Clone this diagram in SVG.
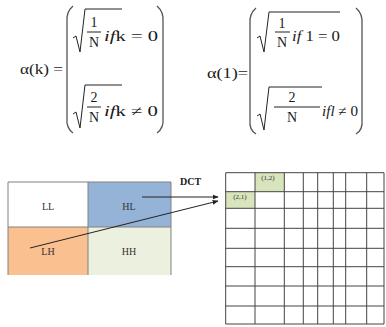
<svg xmlns="http://www.w3.org/2000/svg" width="386" height="327" viewBox="0 0 386 327">
<style>
text{font-family:"Liberation Serif","Times New Roman",serif;fill:#1a1a1a}
.m{font-size:15px}
.f{font-size:14px}
.it{font-style:italic}
.p{fill:none;stroke:#555;stroke-width:1.3}
.s{fill:none;stroke:#222;stroke-width:1}
.b{stroke:#222;stroke-width:1}
.lab{font-size:10px;text-anchor:middle;fill:#333}
.g{stroke:#444;stroke-width:1;fill:none}
.c{font-size:7px;text-anchor:middle;fill:#333}
.a{stroke:#222;stroke-width:1;fill:none;marker-end:url(#ah)}
</style>
<defs>
<marker id="ah" viewBox="0 0 10 10" refX="9" refY="5" markerWidth="6" markerHeight="6" orient="auto" markerUnits="userSpaceOnUse">
<path d="M0,1 L10,5 L0,9 z" fill="#222"/>
</marker>
</defs>
<rect width="386" height="327" fill="#fff"/>
<g id="formula-k">
<text class="m" x="20" y="74" textLength="43" lengthAdjust="spacingAndGlyphs">α(k) =</text>
<path class="p" d="M73,6 Q66,12 67,22 L67,118 Q66,128 73,133"/>
<path class="p" d="M157,6 Q164,12 163,22 L163,118 Q164,128 157,133"/>
<path class="s" d="M73,38 L76,36 L80,52 L85,9 L122,9"/>
<text class="f" x="94" y="27" text-anchor="middle">1</text>
<line class="b" x1="87" y1="32" x2="101" y2="32"/>
<text class="f" x="94" y="47" text-anchor="middle">N</text>
<text class="f" x="104" y="41" textLength="54" lengthAdjust="spacingAndGlyphs"><tspan class="it">if</tspan>k = 0</text>
<path class="s" d="M73,114 L76,112 L80,128 L85,85 L122,85"/>
<text class="f" x="94" y="102" text-anchor="middle">2</text>
<line class="b" x1="87" y1="107" x2="101" y2="107"/>
<text class="f" x="94" y="122" text-anchor="middle">N</text>
<text class="f" x="104" y="116" textLength="54" lengthAdjust="spacingAndGlyphs"><tspan class="it">if</tspan>k ≠ 0</text>
</g>
<g id="formula-l">
<text class="m" x="207" y="78" textLength="41" lengthAdjust="spacingAndGlyphs">α(1)=</text>
<path class="p" d="M256,8 Q249,14 250,24 L250,120 Q249,130 256,134"/>
<path class="p" d="M356,8 Q363,14 362,24 L362,120 Q363,130 356,134"/>
<path class="s" d="M257,38 L260,36 L264,52 L269,12 L340,12"/>
<text class="f" x="282" y="28" text-anchor="middle">1</text>
<line class="b" x1="275" y1="32" x2="290" y2="32"/>
<text class="f" x="282" y="47" text-anchor="middle">N</text>
<text class="f" x="292" y="41" textLength="48" lengthAdjust="spacingAndGlyphs"><tspan class="it">if</tspan>  1 = 0</text>
<path class="s" d="M257,116 L260,114 L264,130 L269,87 L322,87"/>
<text class="f" x="292" y="102" text-anchor="middle">2</text>
<line class="b" x1="274" y1="107" x2="320" y2="107"/>
<text class="f" x="292" y="122" text-anchor="middle">N</text>
<text class="f" x="322" y="116" textLength="36" lengthAdjust="spacingAndGlyphs"><tspan class="it">ifl</tspan> ≠ 0</text>
</g>
<g id="subbands">
<rect x="8" y="182" width="80" height="45" fill="#fff"/>
<rect x="88" y="182" width="83" height="45" fill="#95B3D7"/>
<rect x="8" y="227" width="80" height="48" fill="#FAC090"/>
<rect x="88" y="227" width="83" height="48" fill="#EBF1DE"/>
<path d="M8,182 H171 V275 M8,275 V182 M88,182 V275 M8,227 H171" fill="none" stroke="#808080" stroke-width="1"/>
<text class="lab" x="48" y="210">LL</text>
<text class="lab" x="129" y="210">HL</text>
<text class="lab" x="48" y="255">LH</text>
<text class="lab" x="129" y="255">HH</text>
</g>
<text x="180" y="185" style="font-size:10px;font-weight:bold">DCT</text>
<g id="grid">
<rect x="255" y="172.7" width="29.3" height="19" fill="#D8E4BC"/>
<rect x="225.7" y="191.7" width="29.3" height="16.6" fill="#D8E4BC"/>
<path class="g" d="M225.7,172.7 V324 M255,172.7 V324 M284.3,172.7 V324 M303.3,172.7 V324 M317.7,172.7 V324 M333.3,172.7 V324 M345.7,172.7 V324 M366.7,172.7 V324 M384,172.7 V324"/>
<path class="g" d="M225.7,172.7 H384 M225.7,191.7 H384 M225.7,208.3 H384 M225.7,228.3 H384 M225.7,248.3 H384 M225.7,266.7 H384 M225.7,286 H384 M225.7,306 H384 M225.7,324 H384"/>
<text class="c" x="268" y="180">(1,2)</text>
<text class="c" x="240" y="199">(2,1)</text>
</g>
<g id="connectors">
<line class="a" x1="142" y1="197" x2="218" y2="197"/>
<line class="a" x1="30" y1="248" x2="218" y2="201"/>
</g>
</svg>
